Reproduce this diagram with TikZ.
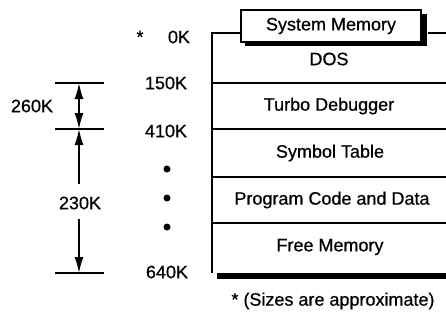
\documentclass[tikz,border=0pt]{standalone}
\usepackage{fontspec}
\setmainfont[FakeBold=0.6]{Liberation Sans}
\usetikzlibrary{arrows.meta}
\begin{document}
\begin{tikzpicture}[x=1pt,y=-1pt,
  lbl/.style={font=\fontsize{18}{20}\selectfont, inner sep=0pt},
  dim/.style={line width=1.5pt},
  arr/.style={line width=1.6pt,-{Latex[length=16pt,width=9pt]}},
  rule/.style={line width=1.4pt}]
\useasboundingbox (0,0) rectangle (446,321);
% main block
\coordinate (tl) at (212,33);
\coordinate (bl) at (212,273);
\draw[rule] (241,33) -- (tl) -- (bl);
\draw[rule] (428,33) -- (446,33);
\fill (217,273) rectangle (446,279);
\foreach \y in {83,129,177,223} \draw[rule] (212,\y) -- (446,\y);
% system memory box with shadow
\fill (245,14) rectangle (427,46);
\draw[rule,fill=white] (241,10) rectangle (421,42);
\node[lbl] (sys) at (331,26) {System Memory};
\node[lbl] (dos) at (329,59) {DOS};
\node[lbl] (tdb) at (329,106) {Turbo Debugger};
\node[lbl] (sym) at (330,153) {Symbol Table};
\node[lbl] (pcd) at (332,200) {Program Code and Data};
\node[lbl] (fre) at (330,247) {Free Memory};
% left labels
\node[lbl] (star) at (140,37) {*};
\node[lbl] (k0) at (179,37) {0K};
\node[lbl] (k150) at (166,83) {150K};
\node[lbl] (k410) at (166,131) {410K};
\node[circle,fill,inner sep=0pt,minimum size=7pt] (d1) at (167,169) {};
\node[circle,fill,inner sep=0pt,minimum size=7pt] (d2) at (167,198) {};
\node[circle,fill,inner sep=0pt,minimum size=7pt] (d3) at (167,227) {};
\node[lbl] (k640) at (167,272) {640K};
% dimension lines
\coordinate (a1) at (79,83);
\coordinate (a2) at (79,129);
\coordinate (a3) at (79,273);
\draw[dim] (55,83) -- (104,83);
\draw[dim] (55,129) -- (104,129);
\draw[dim] (55,273) -- (104,273);
\coordinate (m1) at (79,106);
\draw[arr] (m1) -- (a1);
\draw[arr] (m1) -- (a2);
\node[lbl] (k260) at (32,106) {260K};
\node[lbl] (k230) at (80,203) {230K};
\coordinate (u1) at (79,184);
\coordinate (u2) at (79,219);
\draw[arr] (u1) -- (a2);
\draw[arr] (u2) -- (a3);
% footnote
\node[lbl] (note) at (333,301) {* (Sizes are approximate)};
\end{tikzpicture}
\end{document}
